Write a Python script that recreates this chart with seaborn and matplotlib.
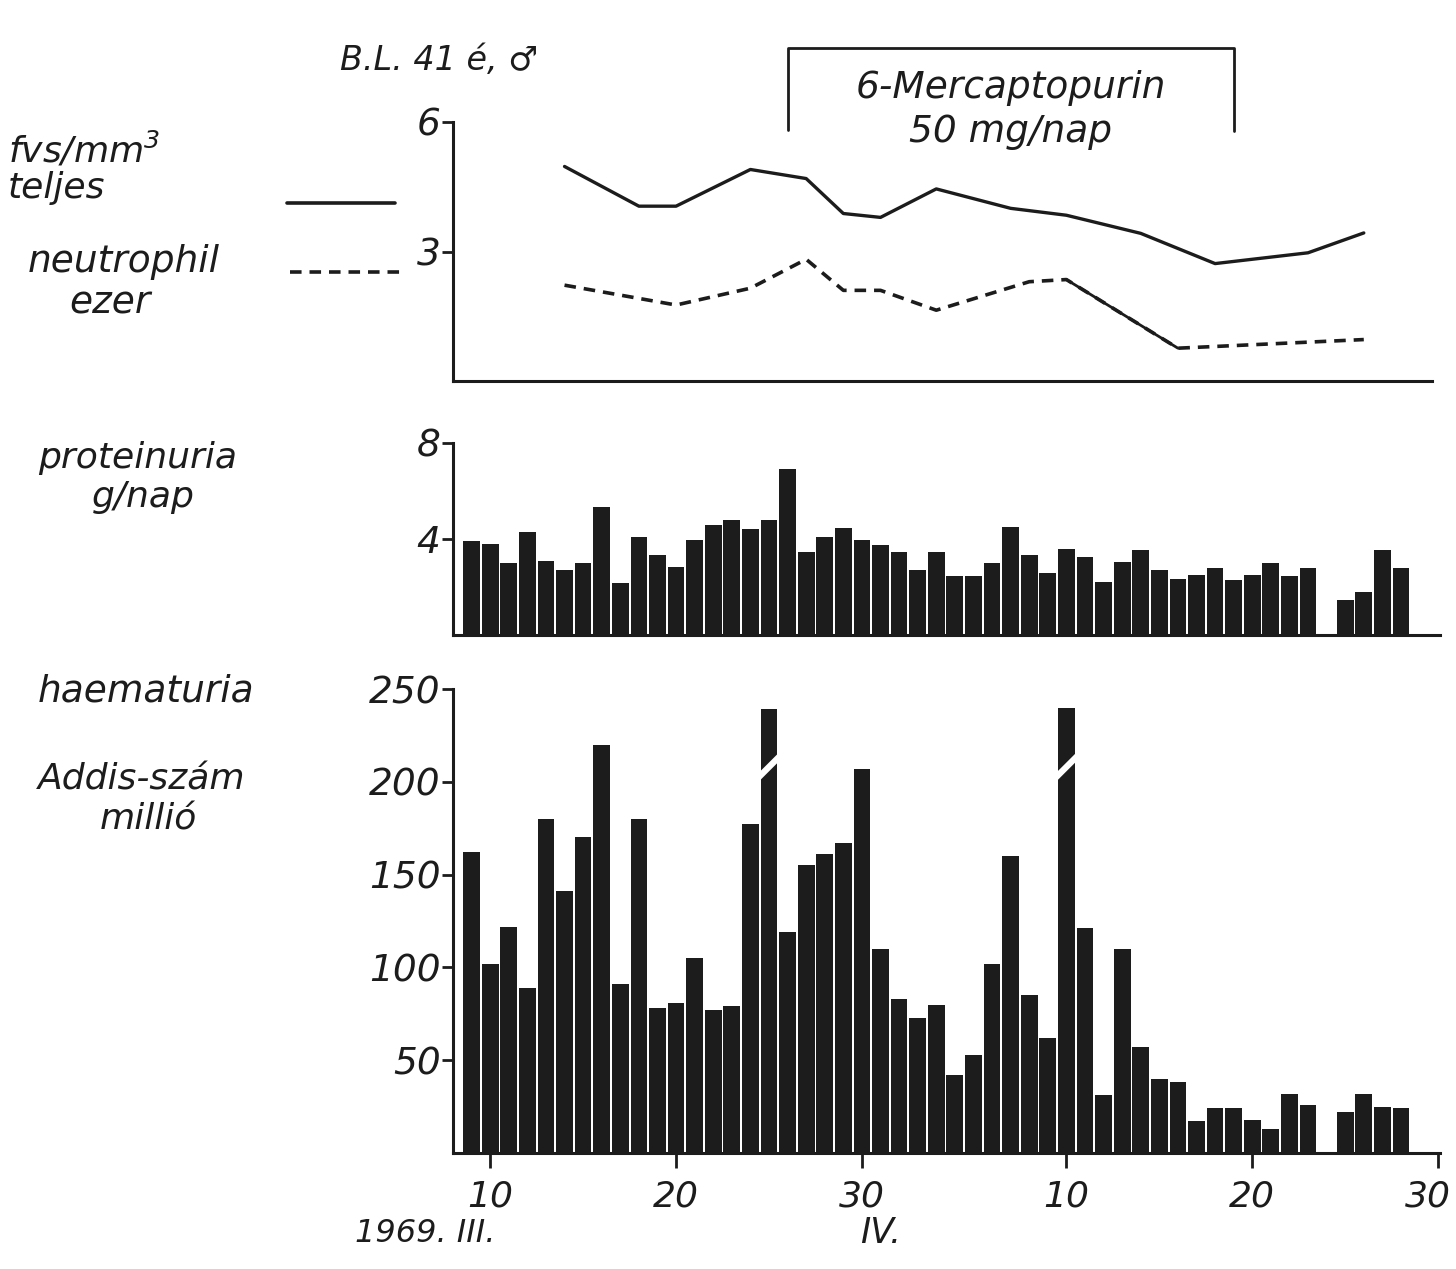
import matplotlib
matplotlib.use("Agg")
import matplotlib.pyplot as plt
import matplotlib.transforms as mtransforms
import seaborn as sns
from matplotlib.lines import Line2D

# ---------------- data ----------------
# day numbers counted from 1 March 1969 (Mar 10 = 10, Apr 10 = 41, Apr 30 = 61)
wbc_days = [14, 18, 20, 24, 27, 29, 31, 34, 38, 41, 45, 49, 54, 57]
wbc_vals = [4.97, 4.05, 4.05, 4.9, 4.69, 3.88, 3.79, 4.45, 4.0, 3.84, 3.42, 2.72, 2.97, 3.43]

neut_days = [14, 20, 24, 27, 29, 31, 34, 39, 41, 47, 57]
neut_vals = [2.22, 1.76, 2.15, 2.82, 2.1, 2.1, 1.64, 2.3, 2.35, 0.76, 0.96]

prot_days = list(range(9, 55)) + [56, 57, 58, 59]
prot_vals = [3.9, 3.8, 3.0, 4.3, 3.1, 2.7, 3.0, 5.35, 2.15, 4.1,
             3.35, 2.85, 3.95, 4.6, 4.8, 4.4, 4.8, 6.9, 3.45, 4.1,
             4.45, 3.95, 3.75, 3.45, 2.7, 3.45, 2.45, 2.45, 3.0, 4.5,
             3.35, 2.6, 3.6, 3.25, 2.2, 3.05, 3.55, 2.7, 2.35, 2.5,
             2.8, 2.3, 2.5, 3.0, 2.45, 2.8,
             1.45, 1.8, 3.55, 2.8]

haem_days = list(range(9, 55)) + [56, 57, 58, 59]
haem_vals = [162, 102, 122, 89, 180, 141, 170, 220, 91, 180,
             78, 81, 105, 77, 79, 177, 239, 119, 155, 161,
             167, 207, 110, 83, 73, 80, 42, 53, 102, 160,
             85, 62, 240, 121, 31, 110, 57, 40, 38, 17,
             24, 24, 18, 13, 32, 26,
             22, 32, 25, 24]
haem_broken_days = [25, 41]
haem_break_level = 208

drug_start, drug_end = 26, 50

x_tick_days = [10, 20, 30, 41, 51, 61]
x_tick_labels = ["10", "20", "30", "10", "20", "30"]
top_ticks, top_tick_labels = [3, 6], ["3", "6"]
mid_ticks, mid_tick_labels = [4, 8], ["4", "8"]
bot_ticks, bot_tick_labels = [50, 100, 150, 200, 250], ["50", "100", "150", "200", "250"]

# ---------------- style ----------------
sns.set_style("white")
plt.rcParams['font.family'] = ['DejaVu Sans']
plt.rcParams['font.style'] = 'italic'
plt.rcParams['mathtext.default'] = 'regular'

ink = '#1c1c1c'
W, H = 1456, 1269
fig = plt.figure(figsize=(W / 100, H / 100), dpi=100)
fig.patch.set_facecolor('white')


def fx(px):
    return px / W


def fy(py):
    return 1 - py / H


x0, x1 = 453, 1440
xlim = (8.0, 61.1)

ax_top = fig.add_axes([fx(x0), fy(381), fx(1432) - fx(x0), fy(122) - fy(381)])
ax_mid = fig.add_axes([fx(x0), fy(635), fx(x1) - fx(x0), fy(443) - fy(635)])
ax_bot = fig.add_axes([fx(x0), fy(1153), fx(x1) - fx(x0), fy(689) - fy(1153)])

dash = (0, (3.2, 2.2))

# ---- top: leukocytes ----
sns.lineplot(x=wbc_days, y=wbc_vals, ax=ax_top, color=ink, linewidth=2.4)
sns.lineplot(x=neut_days, y=neut_vals, ax=ax_top, color=ink, linewidth=2.6, linestyle=dash)
seg_d = [d for d in neut_days if 41 <= d <= 47]
seg_v = [v for d, v in zip(neut_days, neut_vals) if 41 <= d <= 47]
sns.lineplot(x=seg_d, y=seg_v, ax=ax_top, color=ink, linewidth=2.0, linestyle='-')
ax_top.set_ylim(0, 6)

# drug bracket
ax_top.plot([drug_start, drug_start, drug_end, drug_end], [5.81, 7.71, 7.71, 5.78],
            color=ink, lw=2, clip_on=False)
mid_d = (drug_start + drug_end) / 2
ax_top.text(mid_d, 6.78, "6-Mercaptopurin", ha='center', va='center', fontsize=27, color=ink)
ax_top.text(mid_d, 5.76, "50 mg/nap", ha='center', va='center', fontsize=27, color=ink)

# ---- middle: proteinuria ----
sns.barplot(x=prot_days, y=prot_vals, ax=ax_mid, native_scale=True, color=ink,
            width=0.9, errorbar=None, linewidth=0, saturation=1)
ax_mid.set_ylim(0, 8)

# ---- bottom: haematuria ----
sns.barplot(x=haem_days, y=haem_vals, ax=ax_bot, native_scale=True, color=ink,
            width=0.9, errorbar=None, linewidth=0, saturation=1)
ax_bot.set_ylim(0, 250)
for d in haem_broken_days:
    ax_bot.plot([d - 0.6, d + 0.6], [haem_break_level - 6, haem_break_level + 6],
                color='white', lw=4.5, solid_capstyle='butt')

# ---- axes styling ----
for ax in (ax_top, ax_mid, ax_bot):
    ax.set_xlim(*xlim) if ax is not ax_top else ax.set_xlim(xlim[0], xlim[0] + (xlim[1] - xlim[0]) * (1432 - x0) / (x1 - x0))
    ax.set_xlabel("")
    ax.set_ylabel("")
    ax.grid(False)
    ax.set_facecolor('white')
    for s in ('top', 'right'):
        ax.spines[s].set_visible(False)
    for s in ('left', 'bottom'):
        ax.spines[s].set_linewidth(2.2)
        ax.spines[s].set_color(ink)
    ax.tick_params(axis='y', direction='out', length=8, width=2, pad=1,
                   labelsize=27, colors=ink, left=True)

ax_top.set_yticks(top_ticks, top_tick_labels)
ax_mid.set_yticks(mid_ticks, mid_tick_labels)
ax_bot.set_yticks(bot_ticks, bot_tick_labels)

for ax in (ax_top, ax_mid):
    ax.set_xticks([])

ax_bot.set_xticks(x_tick_days, x_tick_labels)
ax_bot.tick_params(axis='x', direction='out', length=11, width=2, pad=8,
                   labelsize=26, colors=ink, bottom=True)
last = ax_bot.get_xticklabels()[-1]
last.set_transform(last.get_transform() + mtransforms.ScaledTranslation(-10 / 100, 0, fig.dpi_scale_trans))

# ---- left labels ----
def ftext(px, py, s, size=27, ha='left'):
    fig.text(fx(px), fy(py), s, ha=ha, va='center', fontsize=size, color=ink)


ftext(340, 60, "B.L. 41 é, ♂", size=24)
ftext(8, 150, r"fvs/mm$^3$", size=26)
ftext(8, 188, "teljes", size=26)
ftext(28, 262, "neutrophil", size=27)
ftext(110, 303, "ezer", size=27, ha='center')
ftext(38, 458, "proteinuria", size=26)
ftext(143, 497, "g/nap", size=26, ha='center')
ftext(38, 692, "haematuria", size=27)
ftext(38, 780, "Addis-szám", size=26)
ftext(148, 820, "millió", size=26, ha='center')
ftext(355, 1233, "1969. III.", size=23)
ftext(860, 1233, "IV.", size=25)

# legend samples
fig.add_artist(Line2D([fx(287), fx(395)], [fy(203), fy(203)], transform=fig.transFigure,
                      color=ink, lw=2.6))
fig.add_artist(Line2D([fx(290), fx(400)], [fy(272), fy(272)], transform=fig.transFigure,
                      color=ink, lw=2.6, linestyle=dash))

fig.savefig("out.png", dpi=100, facecolor='white')
